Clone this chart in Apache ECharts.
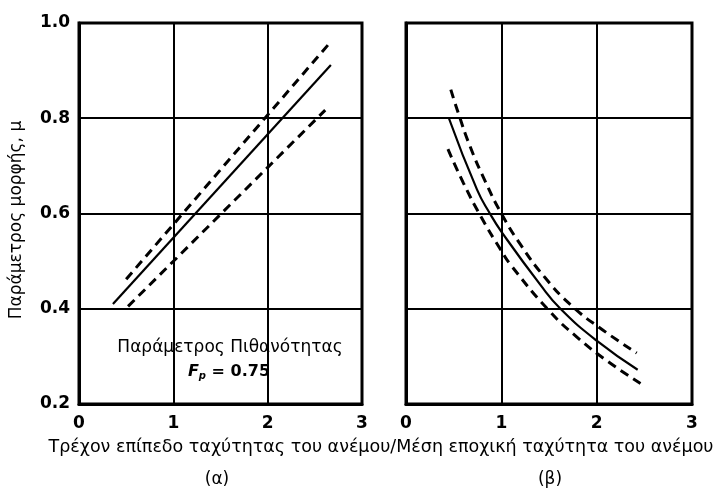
<!DOCTYPE html>
<html>
<head>
<meta charset="utf-8">
<script src="https://cdn.jsdelivr.net/npm/echarts@6/dist/echarts.min.js"></script>
<style>html,body{margin:0;padding:0;background:#fff;}#c{width:715px;height:493px;}</style>
</head>
<body>
<div id="c"></div>
<script>
// ---- data ----
var xTicks = [0, 1, 2, 3];
var yTicks = [0.2, 0.4, 0.6, 0.8, 1.0];
// panel (α)
var aSolid = [[0.36, 0.41], [2.67, 0.912]];
var aUpper = [[0.50, 0.462], [2.64, 0.954]];
var aLower = [[0.52, 0.405], [2.61, 0.817]];
// panel (β)
var bSolid = [[0.45, 0.80], [0.745, 0.65], [0.88, 0.60], [1.0, 0.562], [1.41, 0.45], [1.62, 0.40], [2.0, 0.333], [2.43, 0.272]];
var bUpper = [[0.47, 0.86], [0.55, 0.81], [0.67, 0.742], [0.83, 0.668], [1.0, 0.60], [1.2, 0.535], [1.46, 0.465], [1.74, 0.406], [2.06, 0.356], [2.42, 0.307]];
var bLower = [[0.44, 0.735], [0.60, 0.665], [0.79, 0.592], [0.99, 0.525], [1.11, 0.489], [1.51, 0.394], [1.79, 0.341], [2.12, 0.289], [2.46, 0.243]];

var xTitle = 'Τρέχον επίπεδο ταχύτητας του ανέμου/Μέση εποχική ταχύτητα του ανέμου';
var yTitle = 'Παράμετρος μορφής, μ';
var annot1 = 'Παράμετρος Πιθανότητας';
var panelA = '(α)', panelB = '(β)';

var FONT = '"DejaVu Sans", sans-serif';
var chart = echarts.init(document.getElementById('c'));

function xAx(idx) {
  return {
    gridIndex: idx, type: 'value', min: xTicks[0], max: xTicks[xTicks.length - 1], interval: 1,
    axisLine: { show: true, lineStyle: { color: '#000', width: 3 } },
    axisTick: { show: false },
    axisLabel: { show: true, color: '#000', fontFamily: FONT, fontWeight: 'bold', fontSize: 17, margin: 11 },
    splitLine: { show: true, lineStyle: { color: '#000', width: 2 } }
  };
}
function yAx(idx, showLabel) {
  return {
    gridIndex: idx, type: 'value', min: yTicks[0], max: yTicks[yTicks.length - 1], interval: 0.2,
    axisLine: { show: true, lineStyle: { color: '#000', width: 3 } },
    axisTick: { show: false },
    axisLabel: { show: showLabel, color: '#000', fontFamily: FONT, fontWeight: 'bold', fontSize: 17, margin: 9,
      formatter: function (v) { return v.toFixed(1); } },
    splitLine: { show: true, lineStyle: { color: '#000', width: 2 } }
  };
}
function ser(data, idx, dashed, smooth) {
  return {
    type: 'line', xAxisIndex: idx, yAxisIndex: idx, data: data, showSymbol: false,
    smooth: smooth ? 0.5 : false,
    lineStyle: { color: '#000', width: dashed ? 3 : 2.2, type: dashed ? [9, 6] : 'solid', cap: 'butt' },
    silent: true, z: 5
  };
}

chart.setOption({
  animation: false,
  backgroundColor: '#fff',
  grid: [
    { left: 79, top: 23, width: 283, height: 381, show: true, borderColor: '#000', borderWidth: 3 },
    { left: 406, top: 23, width: 286, height: 381, show: true, borderColor: '#000', borderWidth: 3 }
  ],
  xAxis: [xAx(0), xAx(1)],
  yAxis: [yAx(0, true), yAx(1, false)],
  series: [
    ser(aSolid, 0, false, false), ser(aUpper, 0, true, false), ser(aLower, 0, true, false),
    ser(bSolid, 1, false, true), ser(bUpper, 1, true, true), ser(bLower, 1, true, true)
  ],
  graphic: [
    { type: 'text', x: 381, y: 447, style: { text: xTitle, font: '17.5px ' + FONT, fill: '#000', align: 'center', verticalAlign: 'middle' } },
    { type: 'text', x: 217, y: 480, style: { text: panelA, font: '17px ' + FONT, fill: '#000', align: 'center', verticalAlign: 'middle' } },
    { type: 'text', x: 550, y: 480, style: { text: panelB, font: '17px ' + FONT, fill: '#000', align: 'center', verticalAlign: 'middle' } },
    { type: 'text', x: 17, y: 220, rotation: Math.PI / 2, style: { text: yTitle, font: '17px ' + FONT, fill: '#000', align: 'center', verticalAlign: 'middle' } },
    { type: 'text', x: 230, y: 348, style: { text: annot1, font: '17px ' + FONT, fill: '#000', align: 'center', verticalAlign: 'middle' } },
    { type: 'text', x: 229, y: 372, style: {
        text: '{f|F}{p|p}{e| = 0.75}', align: 'center', verticalAlign: 'middle',
        rich: {
          f: { font: 'italic bold 16px ' + FONT, fill: '#000' },
          p: { font: 'italic bold 10px ' + FONT, fill: '#000', padding: [8, 0, 0, 0] },
          e: { font: 'bold 16px ' + FONT, fill: '#000' }
        } } }
  ]
});
</script>
</body>
</html>
